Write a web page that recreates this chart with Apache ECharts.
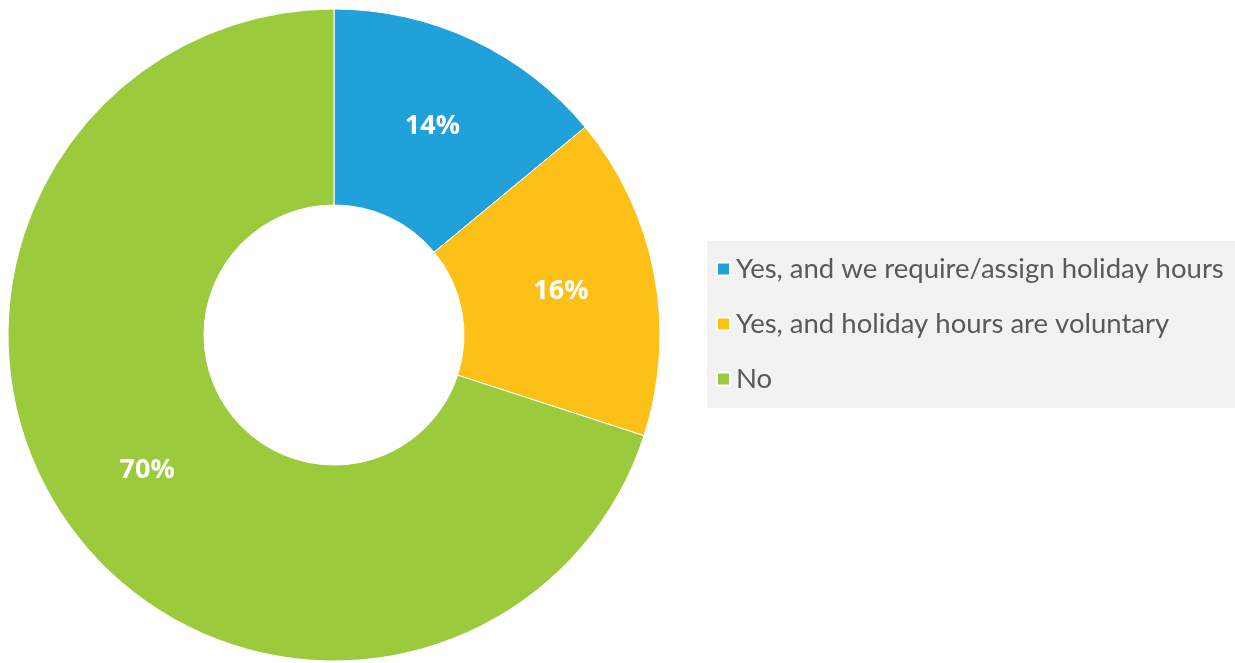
<!DOCTYPE html>
<html>
<head>
<meta charset="utf-8">
<style>
  html, body { margin: 0; padding: 0; background: #ffffff; }
  #chart { width: 1235px; height: 663px; }
</style>
<script src="https://cdn.jsdelivr.net/npm/echarts@6/dist/echarts.min.js"></script>
</head>
<body>
<div id="chart"></div>
<script>
// Survey answers and their shares (%)
const categories = [
  'Yes, and we require/assign holiday hours',
  'Yes, and holiday hours are voluntary',
  'No'
];
const shares = [14, 16, 70];
const colors = ['#21a1da', '#fdc017', '#9bcb3c'];

const chart = echarts.init(document.getElementById('chart'));

chart.setOption({
  backgroundColor: '#ffffff',
  animation: false,
  color: colors,
  graphic: [{
    type: 'rect',
    z: -1,
    shape: { x: 707, y: 241, width: 528, height: 167 },
    style: { fill: '#f2f2f2' }
  }],
  legend: {
    orient: 'vertical',
    left: 711,
    top: 249,
    icon: 'rect',
    itemWidth: 13,
    itemHeight: 13,
    itemGap: 25,
    textStyle: {
      fontFamily: 'Lato',
      fontSize: 27.5,
      lineHeight: 30,
      color: '#595959',
      padding: [0, 0, 0, 1]
    },
    data: categories
  },
  series: [{
    type: 'pie',
    center: [334, 335],
    radius: [130, 326],
    startAngle: 90,
    clockwise: true,
    avoidLabelOverlap: false,
    itemStyle: { borderColor: '#ffffff', borderWidth: 1 },
    label: {
      show: true,
      position: 'inside',
      formatter: '{c}%',
      color: '#ffffff',
      fontFamily: '"Open Sans", sans-serif',
      fontWeight: 'bold',
      fontSize: 27
    },
    labelLine: { show: false },
    emphasis: { disabled: true },
    data: categories.map((name, i) => ({ name, value: shares[i] }))
  }]
});
</script>
</body>
</html>
